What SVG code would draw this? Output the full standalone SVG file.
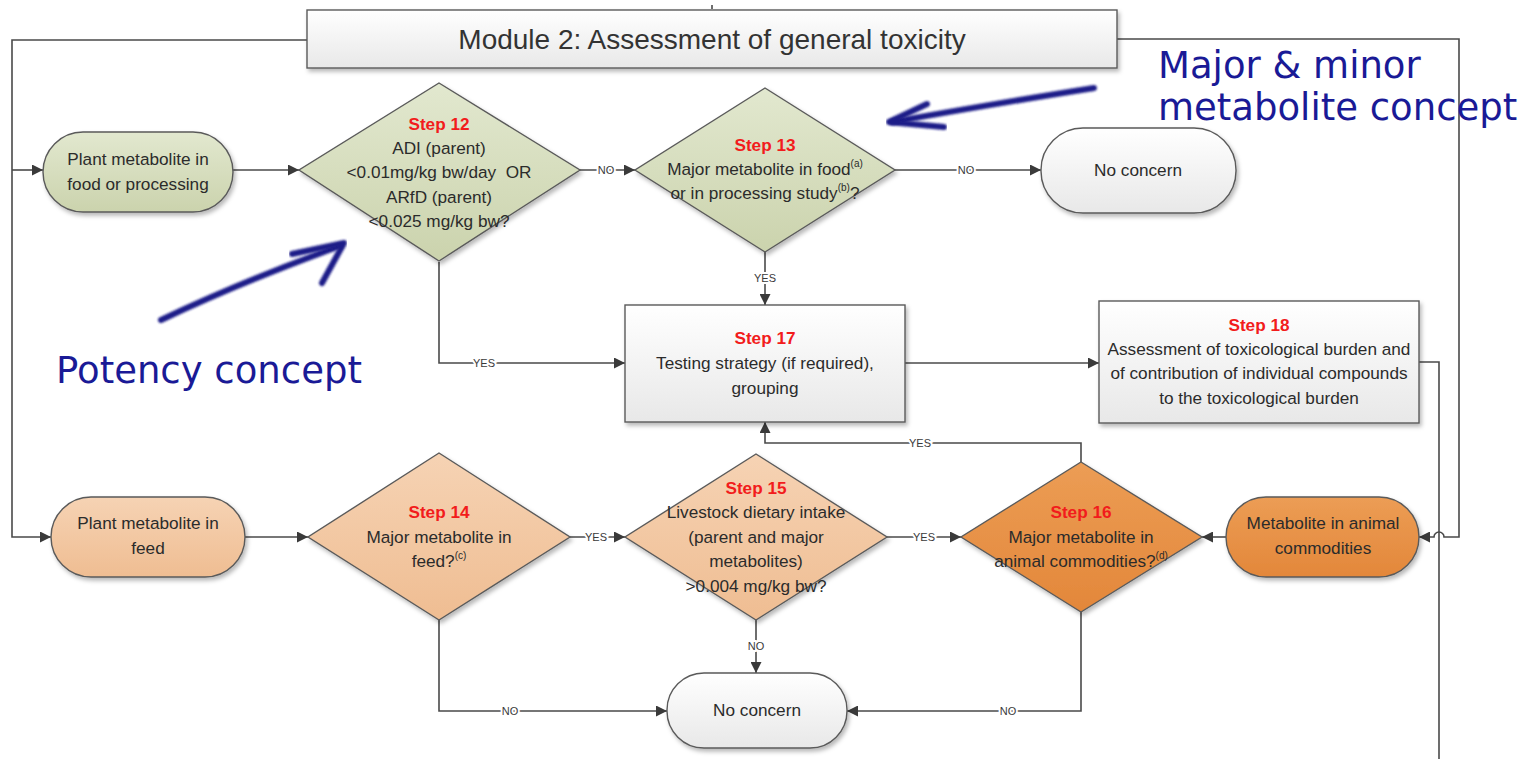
<svg xmlns="http://www.w3.org/2000/svg" width="1521" height="759" viewBox="0 0 1521 759">
  <defs>
    <linearGradient id="gGreen" x1="0" y1="0" x2="0" y2="1">
      <stop offset="0" stop-color="#e2e8cf"/>
      <stop offset="1" stop-color="#cbd3ad"/>
    </linearGradient>
    <linearGradient id="gPeach" x1="0" y1="0" x2="0" y2="1">
      <stop offset="0" stop-color="#f6d3b4"/>
      <stop offset="1" stop-color="#efbd92"/>
    </linearGradient>
    <linearGradient id="gOrange" x1="0" y1="0" x2="0" y2="1">
      <stop offset="0" stop-color="#ec9d55"/>
      <stop offset="1" stop-color="#e3873a"/>
    </linearGradient>
    <linearGradient id="gWhite" x1="0" y1="0" x2="0" y2="1">
      <stop offset="0" stop-color="#ffffff"/>
      <stop offset="1" stop-color="#e8e8e8"/>
    </linearGradient>
    <filter id="shadow" x="-10%" y="-10%" width="125%" height="130%">
      <feDropShadow dx="2" dy="3" stdDeviation="2" flood-color="#000" flood-opacity="0.28"/>
    </filter>
    <filter id="soft" x="-5%" y="-20%" width="110%" height="140%">
      <feGaussianBlur stdDeviation="0.8"/>
    </filter>
    <marker id="arrow" viewBox="0 0 10 10" refX="10" refY="5" markerWidth="11" markerHeight="11" markerUnits="userSpaceOnUse" orient="auto">
      <path d="M0,0 L10,5 L0,10 Z" fill="#3a3a3a"/>
    </marker>
    <style>
      .node { stroke: #5a5a5a; stroke-width: 1.4; filter: url(#shadow); }
      .green { fill: url(#gGreen); }
      .peach { fill: url(#gPeach); }
      .orange { fill: url(#gOrange); }
      .white { fill: url(#gWhite); }
      .txt { font-family: "Liberation Sans", Arial, sans-serif; font-size: 17.2px; fill: #2b2b2b; text-anchor: middle; dominant-baseline: central; }
      .step { font-family: "Liberation Sans", Arial, sans-serif; font-size: 17.2px; font-weight: bold; fill: #f21c1c; text-anchor: middle; dominant-baseline: central; }
      .sup { font-size: 10px; }
      .conn { fill: none; stroke: #4a4a4a; stroke-width: 1.6; }
      .lbl { font-family: "Liberation Sans", Arial, sans-serif; font-size: 11px; fill: #3a3a3a; text-anchor: middle; dominant-baseline: central; stroke: #ffffff; stroke-width: 4; paint-order: stroke; }
      .note { font-family: "DejaVu Sans", Verdana, sans-serif; font-size: 37px; fill: #1a1a96; }
      .pen { fill: none; stroke: #1c1c88; stroke-width: 6; stroke-linecap: round; stroke-linejoin: round; filter: url(#soft); }
    </style>
  </defs>

  <rect width="1521" height="759" fill="#ffffff"/>

  <!-- connectors -->
  <g id="connectors">
    <!-- feed-in lines from the module title -->
    <path class="conn" d="M307,40 H12 V537 H51" marker-end="url(#arrow)"/>
    <path class="conn" d="M12,170 H43" marker-end="url(#arrow)"/>
    <path class="conn" d="M1117,39 H1459 V537 H1444 A5,5 0 0 0 1434,537 H1419" marker-end="url(#arrow)"/>
    <path class="conn" d="M712,5 V9"/>
    <!-- step 18 outgoing line -->
    <path class="conn" d="M1419,362 H1439 V759"/>

    <!-- top row -->
    <path class="conn" d="M233,170 H299" marker-end="url(#arrow)"/>
    <path class="conn" d="M580,170 H635" marker-end="url(#arrow)"/>
    <text class="lbl" x="606" y="170">NO</text>
    <path class="conn" d="M895,170 H1041" marker-end="url(#arrow)"/>
    <text class="lbl" x="966" y="170">NO</text>
    <path class="conn" d="M765,252 V305" marker-end="url(#arrow)"/>
    <text class="lbl" x="765" y="278">YES</text>
    <path class="conn" d="M439,262 V363 H625" marker-end="url(#arrow)"/>
    <text class="lbl" x="484" y="363">YES</text>
    <path class="conn" d="M905,363 H1099" marker-end="url(#arrow)"/>

    <!-- bottom row -->
    <path class="conn" d="M245,537 H308" marker-end="url(#arrow)"/>
    <path class="conn" d="M570,537 H625" marker-end="url(#arrow)"/>
    <text class="lbl" x="596" y="537">YES</text>
    <path class="conn" d="M887,537 H961" marker-end="url(#arrow)"/>
    <text class="lbl" x="924" y="537">YES</text>
    <path class="conn" d="M1226,537 H1202" marker-end="url(#arrow)"/>
    <path class="conn" d="M1081,462 V443 H765 V422" marker-end="url(#arrow)"/>
    <text class="lbl" x="920" y="443">YES</text>
    <path class="conn" d="M756,620 V673" marker-end="url(#arrow)"/>
    <text class="lbl" x="756" y="646">NO</text>
    <path class="conn" d="M439,620 V711 H667" marker-end="url(#arrow)"/>
    <text class="lbl" x="510" y="711">NO</text>
    <path class="conn" d="M1081,612 V711 H847" marker-end="url(#arrow)"/>
    <text class="lbl" x="1008" y="711">NO</text>
  </g>

  <!-- module title -->
  <g id="title">
    <rect class="node white" x="307" y="10" width="810" height="58"/>
    <text x="712" y="39" font-family="Liberation Sans, Arial, sans-serif" font-size="28" fill="#333" text-anchor="middle" dominant-baseline="central">Module 2: Assessment of general toxicity</text>
  </g>

  <!-- food branch -->
  <g id="plant-food">
    <rect class="node green" x="43" y="132" width="190" height="80" rx="40"/>
    <text class="txt" x="138" y="159">Plant metabolite in</text>
    <text class="txt" x="138" y="184">food or processing</text>
  </g>

  <g id="step12">
    <polygon class="node green" points="439,83 580,170 439,261 299,170"/>
    <text class="step" x="439" y="124">Step 12</text>
    <text class="txt" x="439" y="148">ADI (parent)</text>
    <text class="txt" x="439" y="172" xml:space="preserve">&lt;0.01mg/kg bw/day  OR</text>
    <text class="txt" x="439" y="197">ARfD (parent)</text>
    <text class="txt" x="439" y="221">&lt;0.025 mg/kg bw?</text>
  </g>

  <g id="step13">
    <polygon class="node green" points="765,88 895,170 765,252 635,170"/>
    <text class="step" x="765" y="145">Step 13</text>
    <text class="txt" x="765" y="169">Major metabolite in food<tspan class="sup" dy="-6">(a)</tspan></text>
    <text class="txt" x="765" y="193">or in processing study<tspan class="sup" dy="-6">(b)</tspan><tspan dy="6">?</tspan></text>
  </g>

  <g id="no-concern-top">
    <rect class="node white" x="1041" y="128" width="195" height="85" rx="42"/>
    <text class="txt" x="1138" y="170">No concern</text>
  </g>

  <g id="step17">
    <rect class="node white" x="625" y="305" width="280" height="117"/>
    <text class="step" x="765" y="338">Step 17</text>
    <text class="txt" x="765" y="363">Testing strategy (if required),</text>
    <text class="txt" x="765" y="388">grouping</text>
  </g>

  <g id="step18">
    <rect class="node white" x="1099" y="301" width="320" height="122"/>
    <text class="step" x="1259" y="325">Step 18</text>
    <text class="txt" x="1259" y="349">Assessment of toxicological burden and</text>
    <text class="txt" x="1259" y="373">of contribution of individual compounds</text>
    <text class="txt" x="1259" y="398">to the toxicological burden</text>
  </g>

  <!-- feed branch -->
  <g id="plant-feed">
    <rect class="node peach" x="51" y="497" width="194" height="80" rx="40"/>
    <text class="txt" x="148" y="523">Plant metabolite in</text>
    <text class="txt" x="148" y="548">feed</text>
  </g>

  <g id="step14">
    <polygon class="node peach" points="439,453 570,537 439,620 308,537"/>
    <text class="step" x="439" y="512">Step 14</text>
    <text class="txt" x="439" y="537">Major metabolite in</text>
    <text class="txt" x="439" y="561">feed?<tspan class="sup" dy="-6">(c)</tspan></text>
  </g>

  <g id="step15">
    <polygon class="node peach" points="756,454 887,537 756,620 625,537"/>
    <text class="step" x="756" y="488">Step 15</text>
    <text class="txt" x="756" y="512">Livestock dietary intake</text>
    <text class="txt" x="756" y="537">(parent and major</text>
    <text class="txt" x="756" y="561">metabolites)</text>
    <text class="txt" x="756" y="586">&gt;0.004 mg/kg bw?</text>
  </g>

  <g id="step16">
    <polygon class="node orange" points="1081,462 1202,537 1081,612 961,537"/>
    <text class="step" x="1081" y="512">Step 16</text>
    <text class="txt" x="1081" y="537">Major metabolite in</text>
    <text class="txt" x="1081" y="561">animal commodities?<tspan class="sup" dy="-6">(d)</tspan></text>
  </g>

  <g id="animal-commodities">
    <rect class="node orange" x="1226" y="497" width="193" height="80" rx="40"/>
    <text class="txt" x="1323" y="523">Metabolite in animal</text>
    <text class="txt" x="1323" y="548">commodities</text>
  </g>

  <g id="no-concern-bottom">
    <rect class="node white" x="667" y="673" width="180" height="75" rx="37"/>
    <text class="txt" x="757" y="710">No concern</text>
  </g>

  <!-- handwritten annotations -->
  <g id="annotations">
    <path class="pen" d="M161,320 C220,292 285,266 340,246"/>
    <path class="pen" d="M292,254 L344,243 L322,283"/>
    <path class="pen" d="M1094,88 C1030,98 960,110 892,122"/>
    <path class="pen" d="M927,104 L889,122 L944,127"/>
    <text class="note" x="1158" y="78">Major &amp; minor</text>
    <text class="note" x="1158" y="120">metabolite concept</text>
    <text class="note" x="56" y="383" font-size="36">Potency concept</text>
  </g>
</svg>
